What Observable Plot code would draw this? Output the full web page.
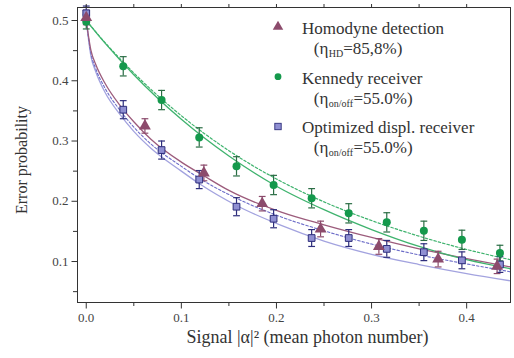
<!DOCTYPE html>
<html><head><meta charset="utf-8">
<script src="https://cdn.jsdelivr.net/npm/d3@7"></script>
<script src="https://cdn.jsdelivr.net/npm/@observablehq/plot@0.6"></script>
<style>
body{margin:0;background:#fff;}
#wrap{position:relative;width:514px;height:358px;}
</style></head><body><div id="wrap"></div>
<script>
// ---- measured data ----
const homX = [0, 0.0617, 0.1237, 0.185, 0.2464, 0.3077, 0.370, 0.432];
const homY = [0.505, 0.325, 0.247, 0.196, 0.154, 0.125, 0.104, 0.092];
const homErr = [0.012, 0.012, 0.013, 0.012, 0.013, 0.013, 0.013, 0.012];

const kenX = [0, 0.0389, 0.0792, 0.1188, 0.158, 0.197, 0.237, 0.276, 0.316, 0.355, 0.395, 0.435];
const kenY = [0.498, 0.424, 0.368, 0.306, 0.258, 0.227, 0.205, 0.180, 0.165, 0.151, 0.136, 0.114];
const kenErr = [0.012, 0.016, 0.016, 0.016, 0.016, 0.016, 0.016, 0.016, 0.016, 0.016, 0.016, 0.013];

const optX = [0, 0.0389, 0.0792, 0.1188, 0.158, 0.197, 0.237, 0.276, 0.316, 0.355, 0.395, 0.435];
const optY = [0.512, 0.352, 0.285, 0.236, 0.191, 0.171, 0.139, 0.139, 0.121, 0.1155, 0.102, 0.095];
const optErr = [0.012, 0.015, 0.015, 0.015, 0.015, 0.015, 0.014, 0.014, 0.014, 0.014, 0.014, 0.013];

// ---- theory curves ----
const kenCurveX = [0, 0.02, 0.05, 0.1, 0.15, 0.2, 0.25, 0.3, 0.35, 0.4, 0.446];
const kenSolidY = [0.5, 0.462, 0.41, 0.336, 0.275, 0.225, 0.186, 0.153, 0.125, 0.103, 0.088];
const kenDotY   = [0.5, 0.463, 0.413, 0.342, 0.284, 0.237, 0.199, 0.168, 0.142, 0.12, 0.103];

const homCurveX = [0, 0.005, 0.01, 0.02, 0.035, 0.05, 0.068, 0.1, 0.124, 0.15, 0.205, 0.25, 0.3, 0.35, 0.4, 0.446];
const homSolidY = [0.5, 0.45, 0.427, 0.395, 0.36, 0.332, 0.303, 0.265, 0.242, 0.218, 0.182, 0.161, 0.140, 0.121, 0.105, 0.091];

const optCurveX = [0, 0.005, 0.01, 0.02, 0.035, 0.05, 0.068, 0.1, 0.119, 0.158, 0.205, 0.25, 0.3, 0.35, 0.4, 0.446];
const optSolidY = [0.5, 0.44, 0.415, 0.38, 0.345, 0.316, 0.288, 0.25, 0.229, 0.193, 0.160, 0.134, 0.112, 0.095, 0.080, 0.068];
const optDotY   = [0.5, 0.445, 0.42, 0.387, 0.352, 0.323, 0.295, 0.258, 0.238, 0.205, 0.174, 0.151, 0.129, 0.111, 0.096, 0.083];

// ---- ticks ----
const xMajor = [0, 0.1, 0.2, 0.3, 0.4];
const xMinor = [0.05, 0.15, 0.25, 0.35];
const xTop = [0, 0.05, 0.1, 0.15, 0.2, 0.25, 0.3, 0.35, 0.4];
const yMajor = [0.1, 0.2, 0.3, 0.4, 0.5];
const yMinor = [0.05, 0.15, 0.25, 0.35, 0.45];

// ---- legend text ----
const legendLabels = ["Homodyne detection", "Kennedy receiver", "Optimized displ. receiver"];
const legendSubs = [["(η", "HD", "=85,8%)"], ["(η", "on/off", "=55.0%)"], ["(η", "on/off", "=55.0%)"]];

const C = {
  ken: "#14994c", kenBar: "#2b6e45", kenLine: "#3fb36e",
  hom: "#8c4b6c", homLine: "#9c5c7c",
  opt: "#8f8fd2", optEdge: "#2e2e7c", optLine: "#a3a3df", optDot: "#6c6cc8"
};

const pts = (xs, ys, es) => xs.map((x, i) => ({x, y: ys[i], e: es[i]}));
const crv = (xs, ys) => xs.map((x, i) => ({x, y: ys[i]}));
const cap = {draw(ctx, size) { const r = Math.sqrt(size / Math.PI); ctx.moveTo(-r, 0); ctx.lineTo(r, 0); }};

const hom = pts(homX, homY, homErr), ken = pts(kenX, kenY, kenErr), opt = pts(optX, optY, optErr);

function errMarks(data, color) {
  return [
    Plot.ruleX(data, {x: "x", y1: d => d.y - d.e, y2: d => d.y + d.e, stroke: color, strokeWidth: 1.2}),
    Plot.dot(data, {x: "x", y: d => d.y + d.e, symbol: cap, r: 3.4, stroke: color, strokeWidth: 1.2}),
    Plot.dot(data, {x: "x", y: d => d.y - d.e, symbol: cap, r: 3.4, stroke: color, strokeWidth: 1.2})
  ];
}

const serif = "'Liberation Serif', 'Times New Roman', Times, Tinos, 'DejaVu Serif', serif";
const ML = 77, MT = 7;
// legend layout (pixel offsets from the frame's top-left corner)
const rowBase = [33.3, 83.3, 132.5];
const subBase = [53.5, 103.5, 152];
const tailX = [342.7, 353, 353];
function legendMarks() {
  const m = [];
  const t = (txt, x, base, fs) => Plot.text([txt], {frameAnchor: "top-left", textAnchor: "start", lineAnchor: "top", dx: x - ML, dy: base - MT - 0.71 * fs, fontSize: fs, fill: "#333", fontFamily: serif});
  legendLabels.forEach((lab, i) => {
    const [a, s, b] = legendSubs[i];
    m.push(t(lab, 301.5, rowBase[i], 17));
    m.push(t(a, 313.3, subBase[i], 17));
    m.push(t(s, 328.3, subBase[i] + 3, 10));
    m.push(t(b, tailX[i], subBase[i], 17));
  });
  return m;
}

const chart = Plot.plot({
  width: 514, height: 358,
  marginLeft: ML, marginRight: 4, marginTop: MT, marginBottom: 56,
  x: {domain: [-0.0092, 0.4461]},
  y: {domain: [0.032, 0.5216]},
  style: {fontFamily: serif, fontSize: "13px", color: "#444", background: "#fff"},
  marks: [
    Plot.line(crv(optCurveX, optSolidY), {x: "x", y: "y", stroke: C.optLine, strokeWidth: 1.3, curve: "monotone-x"}),
    Plot.line(crv(optCurveX, optDotY), {x: "x", y: "y", stroke: C.optDot, strokeWidth: 1.1, strokeDasharray: "2.5,2", curve: "monotone-x"}),
    Plot.line(crv(homCurveX, homSolidY), {x: "x", y: "y", stroke: C.homLine, strokeWidth: 1.3, curve: "monotone-x"}),
    Plot.line(crv(kenCurveX, kenSolidY), {x: "x", y: "y", stroke: C.kenLine, strokeWidth: 1.3, curve: "monotone-x"}),
    Plot.line(crv(kenCurveX, kenDotY), {x: "x", y: "y", stroke: C.kenLine, strokeWidth: 1.2, strokeDasharray: "2.5,2", curve: "monotone-x"}),
    ...errMarks(opt, C.optEdge),
    ...errMarks(hom, C.hom),
    ...errMarks(ken, C.kenBar),
    Plot.dot(ken, {x: "x", y: "y", r: 4, fill: C.ken}),
    Plot.dot(opt, {x: "x", y: "y", symbol: "square", r: 3.8, fill: C.opt, stroke: C.optEdge, strokeWidth: 1}),
    Plot.dot(hom, {x: "x", y: "y", symbol: "triangle", r: 4.4, fill: C.hom}),
    Plot.frame({stroke: "#333", strokeWidth: 1}),
    Plot.axisX({ticks: xMajor, tickFormat: d3.format(".1f"), tickSize: 6.5, tickPadding: 4, label: null, stroke: "#333"}),
    Plot.axisX({ticks: xMinor, tickFormat: () => "", tickSize: 4, label: null, stroke: "#333"}),
    Plot.axisX({anchor: "top", ticks: xTop, tickFormat: () => "", tickSize: 4, label: null, stroke: "#333"}),
    Plot.axisY({ticks: yMajor, tickFormat: d3.format(".1f"), tickSize: 5.5, tickPadding: 3.5, label: null, stroke: "#333"}),
    Plot.axisY({ticks: yMinor, tickFormat: () => "", tickSize: 4, label: null, stroke: "#333"}),
    Plot.text(["Error probability"], {frameAnchor: "left", rotate: -90, dx: -56, dy: 5, textAnchor: "middle", fontSize: 16, fill: "#333", fontFamily: serif}),
    Plot.text(["Signal |α|² (mean photon number)"], {frameAnchor: "bottom", dy: 40, dx: 13.5, textAnchor: "middle", lineAnchor: "bottom", fontSize: 18, fill: "#333", fontFamily: serif}),
    ...legendMarks()
  ]
});
document.getElementById("wrap").appendChild(chart);

// legend symbols
const mk = d3.select(chart).append("g");
mk.append("path").attr("transform", `translate(278,${rowBase[0] - 6.5})`).attr("d", d3.symbol(d3.symbolTriangle, 48)()).attr("fill", C.hom);
mk.append("circle").attr("cx", 278).attr("cy", rowBase[1] - 6.6).attr("r", 3.4).attr("fill", C.ken);
mk.append("rect").attr("x", 278 - 3.2).attr("y", rowBase[2] - 6 - 3.2).attr("width", 6.4).attr("height", 6.4)
  .attr("fill", C.opt).attr("stroke", C.optEdge).attr("stroke-width", 0.9);
</script></body></html>
